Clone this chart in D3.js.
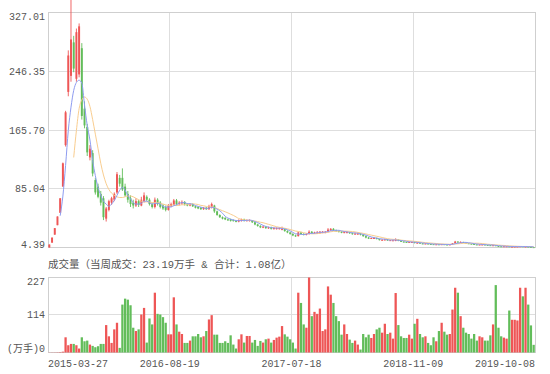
<!DOCTYPE html>
<html>
<head>
<meta charset="utf-8">
<script src="https://cdn.jsdelivr.net/npm/d3@7"></script>
<style>
body { margin: 0; background: #fff; }
svg { display: block; }
</style>
</head>
<body>
<div id="chart"></div>
<script>
// weekly K-line, oldest first
const opens = [4.39,11,22,35,52,88,145,218,240,286,236,242,278,195,170,128,134,97,88,78,72,44,56,66,70,80,100,100,88,78,
  72,66,62,68,62,68,74,70,64,60,70,66,62,60,56,61,63,69,64,65,67,64,62,64,61,60,59,57,59,57,
  60,62,54,49,46,45,43,43,42,41,40,41,43,41,41,42,39,36,34,32,33,31,32,30,30,30,29,30,27,25,
  23,21,20,25,23,22,23,26,24,24,24,25,25,26,28,30,28,27,26,25,25,25.5,24,23,23,23.5,22,20,18,17,
  17,17.5,16,14.5,14.5,15.5,14,14,13.5,15,13.5,12.5,12,11.5,11.5,12,10.5,11,10,9.5,9.8,9.3,9,8.6,8.8,8.4,8.9,8.5,8.2,8.6,
  10,12.5,11.5,12,11,10.2,9.6,9.2,8.6,8.2,8.3,8.5,8,7.6,7.2,7.5,6.4,6.1,5.9,5.9,6.0,5.4,5.5,5.6,5.7,6.1,5.4,5.7,5.2,4.9];
const closes = [8.5,18,31,47,72,120,190,268,290,250,300,308,185,172,135,140,106,80,74,66,46,58,68,72,78,105,92,84,76,70,
  64,62,68,63,70,76,70,64,60,70,64,60,58,56,62,64,69,64,66,67,64,62,64,61,59,58,57,59,57,61,
  64,54,49,46,44,43,42,41,41,40,42,43,41,42,42,39,36,34,32,33,31,32,30,31,31,31,30,27,25,23,
  21,20,25,23,22,23,26,24,25,25,26,26,26,29,30,28,27,26,25,25.5,25.5,24,23,23.5,23.5,22,20,18,17,17.5,
  17.5,16,14.5,15,15.5,14,14.5,14.3,15,13.5,12.5,12,11.5,12,12,10.5,11,10,9.5,9.8,9.3,9,8.6,8.8,8.4,8.9,8.5,8.2,8.6,10,
  12.5,11.5,12,11,10.2,9.6,9.2,8.6,8.2,8.4,8.5,8,7.6,7.2,7.5,6.4,6.1,5.9,6.1,6.0,5.4,5.6,5.7,5.8,6.1,5.4,5.7,5.2,4.9,4.7];
const highs = [8.5,18,31,47,72,121,192,275,345,295,305,312,285,205,174,145,138,100,92,82,75,60,70,74,80,108,104,113,92,82,
  76,70,72,70,74,80,76,72,66,73,72,68,64,62,64,66,71,71,68,69,68,65,65,65,62,61,60,60,60,63,
  66,63,55,50,47,46,44,44,43,42,43,44,44,43,43,42,40,37,35,34,34,33,33,32,32,32,33,30,28,26,
  24,22,26,26,24,24,28,27,26,27,27,27,27,31,31,31,29,28,27,27,27,26,25,25,25,24,23,21,19,18,
  18.5,18,16.5,16,16.5,16,15,15,17,15.5,14,13,12.5,12.5,12.5,12.5,12,11,10.5,10.2,10,9.5,9.2,9.1,9,9.3,9.1,8.7,8.9,10.5,
  13.5,13,12.8,12.2,11.2,10.4,9.8,9.4,8.8,8.7,8.8,8.6,8.1,7.8,7.9,7.6,6.6,6.3,6.3,6.2,6.1,5.8,5.9,6.0,6.4,6.2,6.0,5.8,5.3,5.0];
const lows = [4.39,11,22,35,52,88,143,212,232,245,232,238,180,168,130,124,102,77,72,62,42,40,54,63,68,78,88,82,74,66,
  60,58,60,60,61,66,68,62,58,58,62,58,56,54,55,60,62,62,62,63,62,61,61,60,58,57,56,56,56,56,
  58,52,48,45,43,42,41,40,40,39,39,40,40,40,40,38,35,33,31,31,30,30,29,29,29,29,28,26,24,22,
  20,19,19.5,22,21,21,22,23,23,23,23,24,24,25,27,27,26,25,24,24,24,23,22,22,22,21,19,17,16,16,
  16.5,15.5,14,14,14,13.5,13.5,13.5,13,13,12,11.5,11,11,11,10,10,9.5,9,9.2,9,8.7,8.4,8.4,8.2,8.2,8.3,8,8,8.5,
  9.8,11,11,10.8,10,9.4,9,8.4,8,8,8.1,7.8,7.4,7,7,6.2,5.9,5.7,5.7,5.7,5.2,5.2,5.3,5.4,5.5,5.2,5.2,5.0,4.7,4.5];
// weekly volume, 万手
const volumes = [0.4,0.5,0.6,0.9,1.3,2.5,46,22,26,26,22,12,46,34,36,24,20,16,19,26,26,83,49,29,70,90,14,145,163,160,
  143,75,65,70,115,135,30,103,85,181,117,115,107,90,55,55,167,85,63,56,29,29,36,49,49,56,46,49,65,100,
  113,54,54,29,29,34,29,52,24,12,40,55,30,50,50,30,38,20,35,30,40,42,30,38,45,48,80,55,48,40,
  30,12,181,150,85,75,227,110,123,117,133,65,70,200,175,150,110,95,54,85,56,39,29,36,24,9,56,46,54,44,
  56,70,75,60,87,56,60,42,180,83,49,44,44,54,42,87,102,56,46,49,29,22,46,34,65,90,63,54,56,130,
  196,181,110,75,60,56,42,56,36,49,46,36,36,52,85,204,75,49,45,42,127,99,99,97,196,170,196,145,82,23.19];
// moving averages as drawn (blue MA5, orange MA10)
const ma5 = [null,null,null,null,48,75,117,165,197,220,231,234,230,200,172,152,124,103,87,76,68,64,61,64,69,76,83,87,83,76,
  71,66,64,64,65,68,68,66,64,65,65,64,61,60,60,60,61.8,63,65,66,66,64.6,64.6,63.6,62,60.8,59.8,58.8,58,58.4,
  59.6,59,57,54.8,51.4,47.2,44.8,43.2,42.2,41.4,41.2,41.4,41.4,41.6,42,41.4,40,38.6,36.6,34.8,33.2,32.4,31.6,31.4,31,31,30.6,30,28.8,27.2,
  25.2,23.2,22.8,22.4,22.2,22.6,23.8,23.6,24,24.6,25.2,25.2,25.6,26.4,27.4,27.8,28,28,27.2,26.3,25.8,25.2,24.6,24.3,23.9,23.2,22.4,21.4,20.1,18.9,
  18,17.2,16.5,16.1,15.7,15,14.7,14.7,14.7,14.3,14,13.5,12.9,12.3,12,11.6,11.4,11.1,10.6,10.2,9.9,9.5,9.2,9.1,8.8,8.7,8.6,8.6,8.5,8.8,
  9.6,10.2,10.9,11.4,11.4,10.9,10.4,9.7,9.2,8.8,8.6,8.3,8.1,7.9,7.8,7.3,7.0,6.6,6.4,6.1,5.9,5.8,5.8,5.7,5.7,5.7,5.7,5.6,5.5,5.2];
const ma10 = [null,null,null,null,null,null,null,null,null,128,165,195,207,211,208,198,180,160,140,120,104,92,84,79,76,74,73,73,74,75,
  75,74,72,70,68,67,67,67,66,66,66,65,64,63,62,62.5,62.9,62,62.5,63,63,63.2,63.8,64.3,64,63.4,62.2,61.7,60.8,60.2,
  60.2,59.4,57.9,56.4,54.9,53.4,51.9,50.1,48.5,46.4,44.2,43.1,42.3,41.9,41.7,41.3,40.7,40,39.1,38.4,37.3,36.2,35.1,34,32.9,32.1,31.5,30.8,30.1,29.1,
  28.1,26.9,26.4,25.6,24.7,23.9,23.5,23.2,23.2,23.4,23.9,24.5,24.6,25.2,26,26.5,26.6,26.8,26.8,26.9,26.8,26.6,26.3,25.8,25.1,24.5,23.8,23,22.2,21.4,
  20.6,19.8,19,18.1,17.3,16.5,16,15.6,15.4,15,14.5,14.1,13.8,13.5,13.2,12.8,12.5,12,11.5,11.1,10.8,10.5,10.2,9.9,9.5,9.3,9.1,8.9,8.8,8.8,
  9.2,9.4,9.8,10,10.1,10.3,10.3,10.3,10.3,10.1,9.8,9.4,8.9,8.6,8.3,8,7.7,7.4,7.2,7,6.6,6.4,6.2,6.1,5.9,5.8,5.8,5.7,5.6,5.5];

const priceTicks = [4.39, 85.04, 165.70, 246.35, 327.01];
const volumeTicks = [0, 114, 227];
const dateLabels = ["2015-03-27", "2016-08-19", "2017-07-18", "2018-11-09", "2019-10-08"];
const dateIndex = [0, 45, 90, 135, 180];
const volumeTitle = "成交量（当周成交：23.19万手 & 合计：1.08亿）";

const width = 550, height = 374;
const UP = "#ee5656", DOWN = "#62bd5a";
const monoFont = "'Liberation Mono', 'Noto Sans CJK SC', monospace";

const N = closes.length;
const x = d3.scaleLinear().domain([0, N]).range([48, 535]);
const step = x(1) - x(0);
const yPrice = d3.scaleLinear().domain([4.39, 327.01]).range([247.5, 12.5]);
const yVol = d3.scaleLinear().domain([0, 227]).range([352.5, 277.5]);

const svg = d3.select("#chart").append("svg")
  .attr("width", width)
  .attr("height", height);

const crisp = v => Math.round(v - 0.5) + 0.5;
const isUp = i => closes[i] >= opens[i];

// ---- price panel ----
const main = svg.append("g");

main.selectAll(".hgrid").data(priceTicks).enter().append("line")
  .attr("x1", x(0)).attr("x2", x(N))
  .attr("y1", d => crisp(yPrice(d))).attr("y2", d => crisp(yPrice(d)))
  .attr("stroke", "#dedede");

main.selectAll(".vgrid").data(dateIndex).enter().append("line")
  .attr("x1", d => crisp(x(d))).attr("x2", d => crisp(x(d)))
  .attr("y1", yPrice.range()[1]).attr("y2", yPrice.range()[0])
  .attr("stroke", "#dedede");

main.append("rect")
  .attr("x", crisp(x(0))).attr("y", yPrice.range()[1])
  .attr("width", crisp(x(N)) - crisp(x(0)))
  .attr("height", yPrice.range()[0] - yPrice.range()[1])
  .attr("fill", "none").attr("stroke", "#cfcfcf");

main.selectAll(".plabel").data(priceTicks).enter().append("text")
  .attr("x", 45)
  .attr("y", (d, i) => yPrice(d) + (i === 0 ? -3 : i === priceTicks.length - 1 ? 4 : 0))
  .attr("dy", "0.35em")
  .attr("text-anchor", "end")
  .attr("font-family", monoFont).attr("font-size", "10px").attr("fill", "#555")
  .text(d => d.toFixed(2));

const candles = main.selectAll(".candle").data(d3.range(N)).enter().append("g");

candles.append("line")
  .attr("x1", i => x(i + 0.5)).attr("x2", i => x(i + 0.5))
  .attr("y1", i => yPrice(highs[i])).attr("y2", i => yPrice(lows[i]))
  .attr("stroke", i => isUp(i) ? UP : DOWN)
  .attr("stroke-width", 0.9);

candles.append("rect")
  .attr("x", i => x(i + 0.5) - step * 0.36)
  .attr("width", step * 0.72)
  .attr("y", i => yPrice(Math.max(opens[i], closes[i])))
  .attr("height", i => Math.max(1, Math.abs(yPrice(opens[i]) - yPrice(closes[i]))))
  .attr("fill", i => isUp(i) ? UP : DOWN);

const maLine = series => d3.line()
  .defined(d => d != null)
  .x((d, i) => x(i + 0.5))
  .y(d => yPrice(d))
  .curve(d3.curveMonotoneX)(series);

main.append("path").attr("d", maLine(ma10))
  .attr("fill", "none").attr("stroke", "#f9cd8f").attr("stroke-width", 1);
main.append("path").attr("d", maLine(ma5))
  .attr("fill", "none").attr("stroke", "#8e9cf0").attr("stroke-width", 1);

// ---- volume panel ----
const vol = svg.append("g");

vol.append("text")
  .attr("x", 48).attr("y", 264)
  .attr("dy", "0.35em")
  .attr("font-family", monoFont)
  .attr("font-size", "10.5px").attr("fill", "#555")
  .text(volumeTitle);

vol.selectAll(".hgrid").data(volumeTicks).enter().append("line")
  .attr("x1", x(0)).attr("x2", x(N))
  .attr("y1", d => crisp(yVol(d))).attr("y2", d => crisp(yVol(d)))
  .attr("stroke", "#dedede");

vol.selectAll(".vgrid").data(dateIndex).enter().append("line")
  .attr("x1", d => crisp(x(d))).attr("x2", d => crisp(x(d)))
  .attr("y1", yVol.range()[1]).attr("y2", yVol.range()[0])
  .attr("stroke", "#dedede");

vol.append("rect")
  .attr("x", crisp(x(0))).attr("y", crisp(yVol(227)))
  .attr("width", crisp(x(N)) - crisp(x(0)))
  .attr("height", crisp(yVol(0)) - crisp(yVol(227)))
  .attr("fill", "none").attr("stroke", "#cfcfcf");

vol.selectAll(".bar").data(volumes).enter().append("rect")
  .attr("x", (d, i) => x(i + 0.5) - step * 0.42)
  .attr("width", step * 0.84)
  .attr("y", d => yVol(d))
  .attr("height", d => yVol(0) - yVol(d))
  .attr("fill", (d, i) => isUp(i) ? UP : DOWN);

vol.selectAll(".vlabel").data(volumeTicks).enter().append("text")
  .attr("x", 45)
  .attr("y", (d, i) => yVol(d) + (i === 0 ? -4 : i === volumeTicks.length - 1 ? 4 : 0))
  .attr("dy", "0.35em")
  .attr("text-anchor", "end")
  .attr("font-family", monoFont).attr("font-size", "10px").attr("fill", "#555")
  .text(d => d === 0 ? "(万手)0" : d);

vol.selectAll(".xlabel").data(dateLabels).enter().append("text")
  .attr("x", (d, i) => x(dateIndex[i]))
  .attr("y", 363)
  .attr("dy", "0.35em")
  .attr("text-anchor", (d, i) => i === 0 ? "start" : i === dateLabels.length - 1 ? "end" : "middle")
  .attr("font-family", monoFont).attr("font-size", "10px").attr("fill", "#555")
  .text(d => d);
</script>
</body>
</html>
